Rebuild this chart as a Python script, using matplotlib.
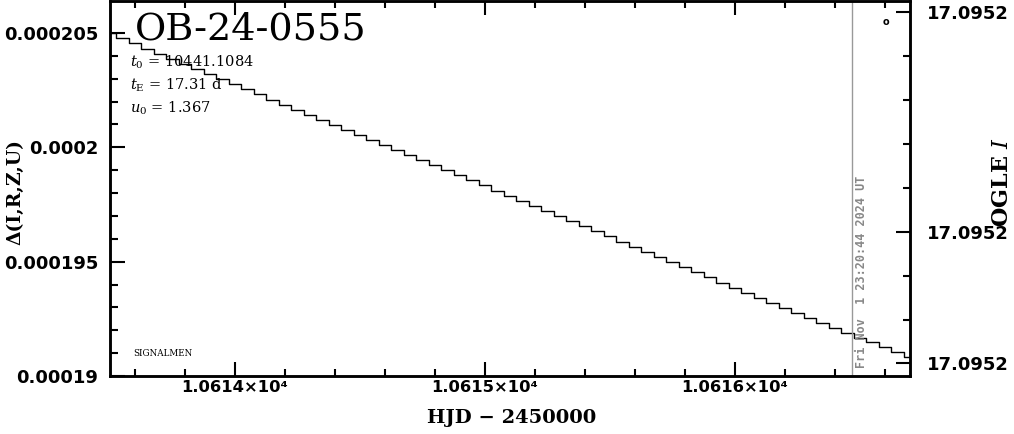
import matplotlib
matplotlib.use("Agg")
import matplotlib.pyplot as plt
from matplotlib.transforms import ScaledTranslation
from matplotlib.font_manager import FontProperties
import numpy as np

# ---- data ----
hjd_start = 10613.5
hjd_step = 0.05
delta_flux_1e6 = [
    205.00, 204.77, 204.55, 204.32, 204.10, 203.87, 203.65, 203.43, 203.21, 202.98,
    202.76, 202.54, 202.32, 202.09, 201.87, 201.65, 201.43, 201.21, 200.99, 200.77,
    200.55, 200.33, 200.11, 199.89, 199.67, 199.44, 199.22, 199.00, 198.78, 198.56,
    198.34, 198.11, 197.89, 197.67, 197.45, 197.22, 197.00, 196.77, 196.55, 196.32,
    196.10, 195.87, 195.65, 195.42, 195.20, 194.97, 194.75, 194.53, 194.31, 194.08,
    193.86, 193.64, 193.42, 193.20, 192.98, 192.76, 192.55, 192.33, 192.11, 191.89,
    191.68, 191.47, 191.25, 191.04, 190.83,
]
hjd = [hjd_start + i * hjd_step for i in range(len(delta_flux_1e6))]
delta = [v * 1e-6 for v in delta_flux_1e6]

x_major = [10614, 10615, 10616]
x_labels = ["1.0614×10⁴", "1.0615×10⁴", "1.0616×10⁴"]
y_major = [0.00019, 0.000195, 0.0002, 0.000205]
y_labels = ["0.00019", "0.000195", "0.0002", "0.000205"]
right_major = [0.00019057, 0.0001963, 0.00020592]
right_minor = [0.00019245, 0.00019437, 0.00019822, 0.00020014, 0.00020207, 0.00020399]
right_labels = ["17.0952", "17.0952", "17.0952"]
now_hjd = 10616.468
now_text = "Fri Nov  1 23:20:44 2024 UT"
event = "OB-24-0555"
params = [r"$t_0$ = 10441.1084", r"$t_{\rm E}$ = 17.31 d", r"$u_0$ = 1.367"]

# ---- figure ----
plt.rcParams["mathtext.fontset"] = "dejavuserif"
fig = plt.figure(figsize=(10.14, 4.34), dpi=100)
L, R = 110 / 1014, 910 / 1014
B, T = 1 - 376 / 434, 1 - 1 / 434
ax = fig.add_axes([L, B, R - L, T - B])

ax.step(hjd, delta, where="mid", color="black", lw=1.0)
ax.axvline(now_hjd, color="#999999", lw=1.0)
ax.text(now_hjd + 0.012, 0.00019 + 0.35e-6, now_text, rotation=90, color="#888888",
        family="DejaVu Sans Mono", weight="bold", fontsize=8.5, ha="left", va="bottom")

ax.set_xlim(10613.5, 10616.7)
ax.set_ylim(0.00019, 0.00019 + 375 / 22.87 * 1e-6)

ax.set_xticks(x_major)
ax.set_xticklabels(x_labels)
ax.set_xticks(np.arange(10613.6, 10616.7, 0.2), minor=True)
ax.set_yticks(y_major)
ax.set_yticklabels(y_labels)
ax.set_yticks(np.arange(0.000191, 0.000206, 0.000001), minor=True)

yfont = FontProperties(family="DejaVu Sans", weight="bold", size=13)
xfont = FontProperties(family="DejaVu Sans", weight="bold", size=11.8)
for lab in ax.get_yticklabels():
    lab.set_fontproperties(yfont)
shift = ScaledTranslation(-7 / 100, 0, fig.dpi_scale_trans)
for lab in ax.get_xticklabels():
    lab.set_fontproperties(xfont)
    lab.set_transform(lab.get_transform() + shift)

ax.tick_params(axis="x", which="both", direction="in", top=True, bottom=True, pad=3)
ax.tick_params(axis="x", which="major", length=10, width=1.5)
ax.tick_params(axis="x", which="minor", length=5, width=1.5)
ax.tick_params(axis="y", which="both", direction="in", left=True, right=False, pad=8.5)
ax.tick_params(axis="y", which="major", length=11, width=1.5)
ax.tick_params(axis="y", which="minor", length=6, width=1.5)
for s in ax.spines.values():
    s.set_linewidth(1.8)

ax2 = ax.twinx()
ax2.set_ylim(ax.get_ylim())
ax2.set_yticks(right_major)
ax2.set_yticklabels(right_labels)
ax2.set_yticks(right_minor, minor=True)
for lab in ax2.get_yticklabels():
    lab.set_fontproperties(yfont)
ax2.tick_params(axis="y", which="both", direction="in", pad=12)
ax2.tick_params(axis="y", which="major", length=10, width=1.5)
ax2.tick_params(axis="y", which="minor", length=5, width=1.5)
for s in ax2.spines.values():
    s.set_linewidth(1.8)

# texts
ax.text((135 - 110) / 800, 1 - 28 / 375, event, transform=ax.transAxes,
        family="DejaVu Serif", fontsize=27.5, ha="left", va="center")
for i, p in enumerate(params):
    ax.text((130 - 110) / 800, 1 - (61 + 23 * i) / 375, p, transform=ax.transAxes,
            family="DejaVu Serif", fontsize=10.5, ha="left", va="center")
ax.text((133 - 110) / 800, 1 - (353 - 1) / 375, "SIGNALMEN", transform=ax.transAxes,
        family="DejaVu Serif", fontsize=6.3, ha="left", va="center")
ax.text((886 - 110) / 800, 1 - (22 - 1) / 375, "o", transform=ax.transAxes,
        family="DejaVu Sans", weight="bold", fontsize=7, ha="center", va="center")

fig.text(512 / 1014, 1 - 418 / 434, "HJD − 2450000", family="DejaVu Serif",
         weight="bold", fontsize=14, ha="center", va="center")
fig.text(15 / 1014, 1 - 192 / 434, "Δ(I,R,Z,U)", family="DejaVu Serif",
         weight="bold", fontsize=13.5, rotation=90, ha="center", va="center")
fig.text(1013 / 1014, 1 - 182 / 434, "OGLE $\\mathbf{\\mathit{I}}$", family="DejaVu Serif",
         weight="bold", fontsize=16, rotation=90, ha="right", va="center")

fig.savefig("out.png", dpi=100)
